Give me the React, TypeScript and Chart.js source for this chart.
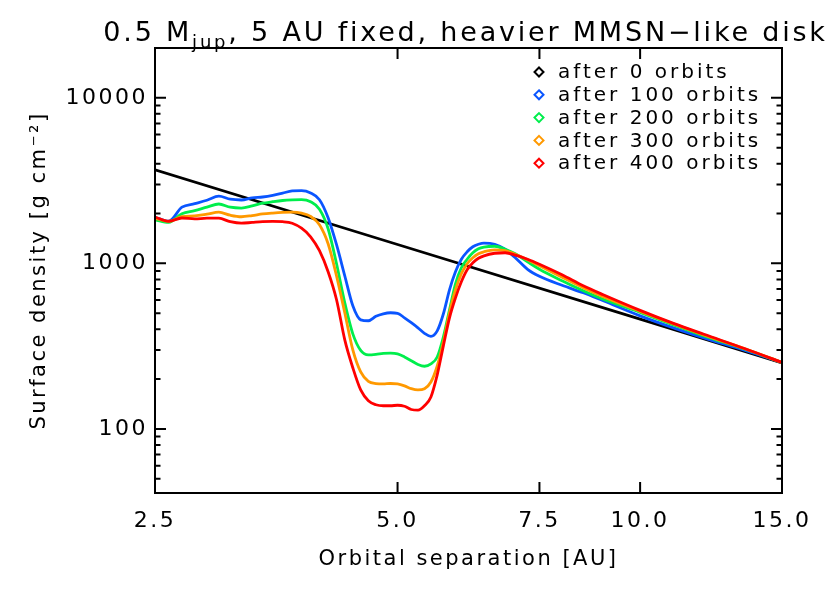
import React, { useEffect, useRef } from "react";
import { Chart, registerables } from "chart.js";

Chart.register(...registerables);

const FONT = '"DejaVu Sans", sans-serif';

// Orbital separation grid [AU]
const RADIUS_AU = [
  2.5, 2.6, 2.7, 2.8, 2.9, 3.0, 3.1, 3.2, 3.3, 3.4, 3.5, 3.6, 3.7, 3.8, 3.9, 4.0, 4.1, 4.2, 4.3, 4.4,
  4.5, 4.6, 4.7, 4.8, 4.9, 5.0, 5.1, 5.2, 5.3, 5.4, 5.5, 5.6, 5.7, 5.8, 5.9, 6.0, 6.1, 6.2, 6.3, 6.4,
  6.6, 6.8, 7.0, 7.25, 7.5, 8.0, 8.5, 9.0, 10, 11, 12, 13.5, 15,
];

// Initial power-law profile
const RADIUS_INITIAL_AU = [2.5, 5, 10, 15];
const SIGMA_0 = [3670, 1300, 460, 250];

const SIGMA_100 = [
  1900, 1797, 2184, 2293, 2407, 2545, 2441, 2414, 2486, 2517, 2574, 2654, 2740, 2747, 2661, 2424, 1887, 1296, 841, 554,
  456, 450, 479, 496, 503, 499, 469, 438, 408, 378, 362, 391, 496, 692, 890, 1059, 1175, 1260, 1305, 1327,
  1305, 1217, 1081, 921, 836, 737, 664, 594, 482, 408, 355, 298, 252,
];
const SIGMA_200 = [
  1835, 1767, 1995, 2080, 2184, 2283, 2184, 2159, 2223, 2308, 2357, 2397, 2417, 2424, 2357, 2124, 1619, 994, 578, 375,
  298, 280, 282, 286, 287, 284, 272, 258, 245, 239, 247, 272, 360, 524, 753, 941, 1059, 1159, 1225, 1255,
  1269, 1217, 1143, 1022, 921, 785, 683, 607, 506, 425, 365, 303, 252,
];
const SIGMA_300 = [
  1874, 1792, 1913, 1934, 1981, 2037, 1953, 1913, 1945, 1989, 2014, 2031, 2037, 2009, 1921, 1712, 1314, 841, 503, 300,
  221, 194, 188, 187, 188, 187, 182, 175, 172, 175, 192, 240, 336, 503, 692, 865, 994, 1081, 1143, 1175,
  1208, 1192, 1135, 1051, 967, 824, 712, 628, 513, 431, 370, 305, 252,
];
const SIGMA_400 = [
  1905, 1797, 1879, 1856, 1874, 1874, 1785, 1748, 1767, 1785, 1792, 1785, 1748, 1630, 1448, 1192, 890, 603, 345, 234,
  172, 148, 140, 138, 138, 139, 137, 131, 130, 138, 156, 212, 318, 469, 619, 774, 915, 1008, 1074, 1111,
  1151, 1159, 1122, 1059, 988, 853, 732, 646, 520, 434, 373, 305, 252,
];

const SERIES_LABELS = ["after 0 orbits", "after 100 orbits", "after 200 orbits", "after 300 orbits", "after 400 orbits"];
const SERIES_COLORS = ["#000000", "#0a55ff", "#00ee4c", "#ff9900", "#ff0000"];

const X_TICKS = [2.5, 5.0, 7.5, 10.0, 15.0];
const Y_TICKS = [100, 1000, 10000];

const X_MIN = 2.5;
const X_MAX = 15;
const Y_MIN = 41;
const Y_MAX = 20000;

const TITLE_MAIN = "0.5 M";
const TITLE_SUB = "jup";
const TITLE_REST = ", 5 AU fixed, heavier MMSN\u2212like disk";
const X_TITLE = "Orbital separation [AU]";
const Y_TITLE = "Surface density [g cm\u207B\u00B2]";

const toPoints = (xs: number[], ys: number[]) => xs.map((x, i) => ({ x, y: ys[i] }));

const decorPlugin = {
  id: "decor",
  beforeDraw(chart: any) {
    chart.ctx.letterSpacing = "2.5px";
  },
  afterDraw(chart: any) {
    const { ctx, chartArea: a, scales } = chart;
    const xs = scales.x;
    const ys = scales.y;
    ctx.save();
    ctx.letterSpacing = "0px";
    ctx.strokeStyle = "#000";
    ctx.lineWidth = 2;
    ctx.strokeRect(a.left, a.top, a.right - a.left, a.bottom - a.top);
    ctx.beginPath();
    X_TICKS.forEach((v) => {
      const p = xs.getPixelForValue(v);
      if (p > a.left + 1 && p < a.right - 1) {
        ctx.moveTo(p, a.bottom);
        ctx.lineTo(p, a.bottom - 11);
        ctx.moveTo(p, a.top);
        ctx.lineTo(p, a.top + 11);
      }
    });
    for (let e = 1; e <= 4; e++) {
      for (let m = 1; m <= 9; m++) {
        const v = m * Math.pow(10, e);
        if (v < Y_MIN || v > Y_MAX) continue;
        const p = ys.getPixelForValue(v);
        const len = m === 1 ? 11 : 5.5;
        ctx.moveTo(a.left, p);
        ctx.lineTo(a.left + len, p);
        ctx.moveTo(a.right, p);
        ctx.lineTo(a.right - len, p);
      }
    }
    ctx.stroke();

    // legend
    ctx.font = `20px ${FONT}`;
    ctx.letterSpacing = "3px";
    ctx.textBaseline = "middle";
    ctx.textAlign = "left";
    chart.data.datasets.forEach((ds: any, i: number) => {
      const y = a.top + 24 + i * 22.8;
      const x = a.right - 243;
      ctx.beginPath();
      ctx.strokeStyle = ds.borderColor;
      ctx.lineWidth = 2;
      ctx.moveTo(x, y - 4.5);
      ctx.lineTo(x + 4.5, y);
      ctx.lineTo(x, y + 4.5);
      ctx.lineTo(x - 4.5, y);
      ctx.closePath();
      ctx.stroke();
      ctx.fillStyle = "#000";
      ctx.fillText(ds.label, x + 19, y + 1);
    });

    // title with subscript
    ctx.fillStyle = "#000";
    ctx.textBaseline = "alphabetic";
    ctx.letterSpacing = "2.8px";
    ctx.font = `27px ${FONT}`;
    const w1 = ctx.measureText(TITLE_MAIN).width;
    const w3 = ctx.measureText(TITLE_REST).width;
    ctx.font = `18px ${FONT}`;
    const w2 = ctx.measureText(TITLE_SUB).width;
    let x0 = (a.left + a.right) / 2 - 3 - (w1 + w2 + w3) / 2;
    const base = 41;
    ctx.font = `27px ${FONT}`;
    ctx.fillText(TITLE_MAIN, x0, base);
    x0 += w1;
    ctx.font = `18px ${FONT}`;
    ctx.fillText(TITLE_SUB, x0, base + 7);
    x0 += w2;
    ctx.font = `27px ${FONT}`;
    ctx.fillText(TITLE_REST, x0, base);
    ctx.restore();
  },
};

export default function App() {
  const ref = useRef<HTMLCanvasElement | null>(null);
  useEffect(() => {
    if (!ref.current) return;
    const allSeries = [SIGMA_100, SIGMA_200, SIGMA_300, SIGMA_400];
    const datasets: any[] = [
      {
        label: SERIES_LABELS[0],
        data: toPoints(RADIUS_INITIAL_AU, SIGMA_0),
        borderColor: SERIES_COLORS[0],
        borderWidth: 2.8,
        pointRadius: 0,
        order: 5,
      },
      ...allSeries.map((s, i) => ({
        label: SERIES_LABELS[i + 1],
        data: toPoints(RADIUS_AU, s),
        borderColor: SERIES_COLORS[i + 1],
        borderWidth: 2.8,
        pointRadius: 0,
        cubicInterpolationMode: "monotone",
        order: 4 - i,
      })),
    ];
    const chart = new Chart(ref.current, {
      type: "line",
      data: { datasets },
      plugins: [decorPlugin],
      options: {
        animation: false,
        responsive: false,
        devicePixelRatio: 1,
        layout: { padding: { left: 0, right: 48, top: 48, bottom: 0 } },
        plugins: { legend: { display: false }, tooltip: { enabled: false }, title: { display: false } },
        scales: {
          x: {
            type: "logarithmic",
            min: X_MIN,
            max: X_MAX,
            grid: { display: false, drawTicks: false },
            border: { display: false },
            afterBuildTicks: (s: any) => {
              s.ticks = X_TICKS.map((v) => ({ value: v }));
            },
            afterFit: (s: any) => {
              s.height = 100;
            },
            ticks: {
              autoSkip: false,
              maxRotation: 0,
              color: "#000",
              padding: 15,
              font: { family: FONT, size: 22 },
              callback: (v: any) => Number(v).toFixed(1),
            },
            title: {
              display: true,
              text: X_TITLE,
              color: "#000",
              font: { family: FONT, size: 21 },
              padding: { top: 0, bottom: 21 },
            },
          },
          y: {
            type: "logarithmic",
            min: Y_MIN,
            max: Y_MAX,
            grid: { display: false, drawTicks: false },
            border: { display: false },
            afterBuildTicks: (s: any) => {
              s.ticks = Y_TICKS.map((v) => ({ value: v }));
            },
            afterFit: (s: any) => {
              s.width = 155;
            },
            ticks: {
              autoSkip: false,
              color: "#000",
              padding: 7,
              font: { family: FONT, size: 22 },
              callback: (v: any) => String(v),
            },
            title: {
              display: true,
              text: Y_TITLE,
              color: "#000",
              font: { family: FONT, size: 21 },
              padding: { top: 27, bottom: 0 },
            },
          },
        },
      },
    });
    return () => chart.destroy();
  }, []);
  return (
    <div style={{ position: "fixed", left: 0, top: 0, width: 830, height: 593, background: "#fff" }}>
      <canvas ref={ref} width={830} height={593} style={{ width: 830, height: 593 }} />
    </div>
  );
}
